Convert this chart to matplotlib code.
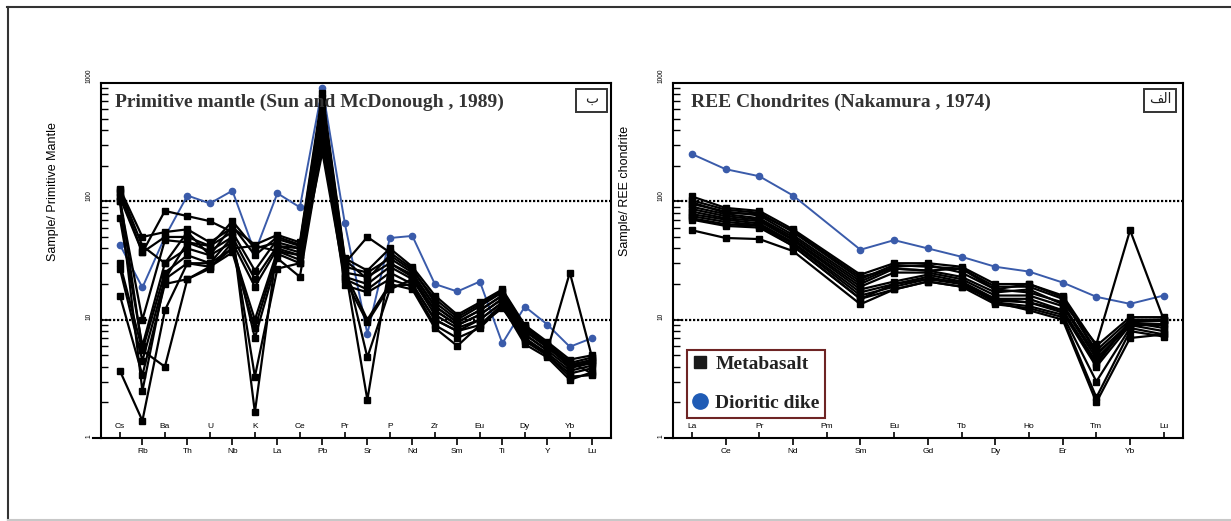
import numpy as np
import matplotlib
matplotlib.use('Agg')
import matplotlib.pyplot as plt
from matplotlib.lines import Line2D
from matplotlib.patches import Rectangle
from matplotlib.ticker import NullFormatter


# [ Primitive mantle normalised (Sun and McDonough , 1989) ]
PM_ELEMENTS = ['Cs', 'Rb', 'Ba', 'Th', 'U', 'Nb', 'K', 'La', 'Ce', 'Pb', 'Pr',
			   'Sr', 'P', 'Nd', 'Zr', 'Sm', 'Eu', 'Ti', 'Dy', 'Y', 'Yb', 'Lu']

pm_metabasalt = [
	[128, 50, 55, 58, 45, 60, 43, 52, 45, 820, 33, 26, 40, 28, 16, 11, 14, 18, 9.0, 6.5, 4.6, 5.0],
	[120, 37, 83, 75, 68, 55, 26, 48, 42, 700, 30, 50, 37, 27, 14, 10, 13, 17, 8.5, 6.2, 4.3, 4.8],
	[108, 37, 50, 50, 42, 68, 40, 45, 40, 600, 28, 25, 33, 25, 13, 9.5, 12, 16, 8.0, 5.8, 4.1, 4.6],
	[100, 10, 47, 45, 38, 50, 22, 42, 37, 520, 25, 23, 30, 23, 12, 9, 11, 15, 7.5, 5.5, 3.9, 4.3],
	[72, 6, 30, 40, 35, 45, 19, 40, 35, 450, 23, 20, 28, 22, 11, 8.5, 10, 14, 7.0, 5.2, 3.7, 4.1],
	[30, 5.5, 25, 35, 30, 40, 10, 38, 32, 400, 22, 18, 25, 20, 10, 8, 9, 13.5, 6.6, 5.0, 3.5, 3.9],
	[27, 4.5, 22, 30, 28, 37, 8.5, 36, 30, 350, 19.5, 17, 22, 19, 9, 7, 8.5, 13, 6.2, 4.8, 3.1, 3.6],
	[16, 3.4, 20, 22, 27, 45, 7, 33, 23, 300, 25, 10, 20, 18, 8.5, 6, 9, 12.5, 6.8, 5.0, 3.3, 3.4],
	[3.7, 1.4, 12, 30, 30, 50, 3.3, 27, 30, 260, 22, 9.5, 19, 20, 10, 8, 10, 14, 7.5, 5.5, 25, 4.7],
	[100, 2.5, 22, 45, 42, 55, 1.65, 42, 40, 650, 30, 4.8, 18, 22, 12, 9, 11, 15, 8.0, 6.0, 4.0, 4.4],
	[110, 5.5, 4, 22, 28, 40, 42, 38, 35, 550, 28, 2.1, 30, 24, 13, 9.5, 12, 16, 8.5, 6.0, 4.2, 4.5],
	[125, 42, 30, 55, 35, 62, 35, 50, 43, 750, 32, 22, 35, 26, 15, 10.5, 13.5, 17.5, 8.8, 6.3, 4.4, 3.5],
]
pm_dike = [43, 18.7, 50, 112, 96, 123, 37, 117, 89, 910, 65, 7.6, 49, 51, 20, 17.3, 21, 6.3, 12.9, 9.1, 5.9, 7.0]

# [ REE chondrite normalised (Nakamura , 1974) ] - Pm not measured
REE_ELEMENTS = ['La', 'Ce', 'Pr', 'Nd', 'Pm', 'Sm', 'Eu', 'Gd', 'Tb', 'Dy', 'Ho', 'Er', 'Tm', 'Yb', 'Lu']
REE_MEASURED = ['La', 'Ce', 'Pr', 'Nd', 'Sm', 'Eu', 'Gd', 'Tb', 'Dy', 'Ho', 'Er', 'Tm', 'Yb', 'Lu']

ree_metabasalt = [
	[110, 88, 83, 58, 24, 30, 30, 28, 20, 20, 16, 6.0, 10.5, 10.5],
	[102, 85, 80, 55, 22, 29, 28, 27, 19, 19, 15, 5.5, 10, 10],
	[95, 82, 76, 52, 21, 28, 29, 25, 18, 17, 14, 6.2, 57, 10],
	[90, 78, 72, 50, 20, 27, 26, 23, 17, 18, 13.5, 5.0, 9.5, 9.8],
	[86, 75, 70, 48, 19, 25, 25, 22, 16, 16, 13, 4.7, 9.0, 9.0],
	[82, 72, 68, 47, 18, 21, 24, 21, 15, 15, 12, 4.4, 9.5, 8.5],
	[78, 70, 65, 45, 17, 20, 23, 20, 14.5, 14, 11.5, 4.0, 9.0, 8.0],
	[75, 67, 63, 44, 16, 19, 22, 20, 14, 13, 11, 3.0, 8.5, 7.5],
	[72, 64, 62, 42, 15, 18, 21, 19, 13.5, 12.5, 10.5, 2.2, 8.0, 7.2],
	[70, 62, 60, 42, 15, 20, 22, 21, 14, 12, 10, 2.0, 7.0, 7.5],
	[57, 49, 48, 38, 13.5, 18, 21, 19, 15, 14, 12, 4.2, 9.8, 10],
	[98, 80, 78, 56, 23, 27, 26, 27, 18, 20, 15.5, 5.2, 9.2, 9.2],
]
ree_dike = [251, 187, 163, 112, 39, 47, 40, 34, 28, 25.5, 20.6, 15.6, 13.6, 16]

BLUE = '#3a5baa'
SERIF = 'Liberation Serif'
SANS = 'Liberation Sans'

W, H = 1231, 521


def style_axes(ax, elements, ylabel):
	n = len(elements)
	x = np.arange(n)
	ax.set_yscale('log')
	ax.set_ylim(1, 1000)
	# pad so that first/last element sit like in the original
	if n > 15:
		ax.set_xlim(-0.84, n - 1 + 0.83)
	else:
		ax.set_xlim(-0.56, n - 1 + 0.57)

	# dotted reference lines
	for v in (10, 100):
		ax.axhline(v, color='k', lw=1.6, ls=(0, (1, 0.8)), zorder=1)

	# y ticks
	ax.set_yticks([1, 10, 100, 1000], ['1', '10', '100', '1000'])
	ax.yaxis.set_minor_formatter(NullFormatter())
	ax.tick_params(axis='y', which='major', direction='in', length=6, width=1.2,
				   labelsize=4.8, pad=6)
	ax.tick_params(axis='y', which='minor', direction='in', length=5, width=1.0)
	for t in ax.get_yticklabels():
		t.set_rotation(90)
		t.set_va('bottom')
		t.set_family(SANS)

	# x ticks : odd -> outside, even -> inside
	out_pos = x[1::2]
	in_pos = x[0::2]
	ax.set_xticks(out_pos, [elements[i] for i in out_pos])
	ax.set_xticks(in_pos, [elements[i] for i in in_pos], minor=True)
	ax.tick_params(axis='x', which='major', direction='out', length=5, width=1.2,
				   labelsize=6, pad=2)
	ax.tick_params(axis='x', which='minor', direction='in', length=4.5, width=1.2,
				   labelsize=6, pad=-10.5)
	for t in ax.get_xticklabels() + ax.get_xticklabels(minor=True):
		t.set_family(SANS)

	for s in ax.spines.values():
		s.set_linewidth(1.5)
	ax.plot([-0.016, 0], [0, 0], transform=ax.transAxes, color='k', lw=1.5, clip_on=False)

	ax.set_ylabel(ylabel, fontsize=9, family=SANS)
	ax.yaxis.set_label_coords(-0.083, 0.695)


def label_box(ax, x0, x1, text):
	y0, y1 = 0.918, 0.983
	ax.add_patch(Rectangle((x0, y0), x1 - x0, y1 - y0, transform=ax.transAxes,
						   fill=False, ec='#333333', lw=1.4, zorder=5))
	ax.text((x0 + x1) / 2, (y0 + y1) / 2 + 0.004, text, transform=ax.transAxes,
			ha='center', va='center', fontsize=10, family='DejaVu Sans', color='#222222')


def main():
	fig = plt.figure(figsize=(W / 100, H / 100), dpi=100)

	# outer frame
	fig.add_artist(Line2D([7 / W, 1], [1 - 7 / H, 1 - 7 / H], color='#333333', lw=1.5))
	fig.add_artist(Line2D([8 / W, 8 / W], [1 - 7 / H, 1 / H], color='#333333', lw=1.5))
	fig.add_artist(Line2D([8 / W, 1], [1.5 / H, 1.5 / H], color='#c8c8c8', lw=1.5))

	bottom = (H - 438) / H
	height = 355 / H
	ax1 = fig.add_axes([101 / W, bottom, 510 / W, height])
	ax2 = fig.add_axes([673 / W, bottom, 510 / W, height])

	# [ Left : Primitive mantle ]
	x_pm = np.arange(len(PM_ELEMENTS))
	ax1.plot(x_pm, pm_dike, color=BLUE, lw=1.4, marker='o', ms=4.5, zorder=2)
	for s in pm_metabasalt:
		ax1.plot(x_pm, s, color='k', lw=1.6, marker='s', ms=4, zorder=3)
	style_axes(ax1, PM_ELEMENTS, 'Sample/ Primitive Mantle')
	ax1.text(0.0275, 0.933, 'Primitive mantle (Sun and McDonough , 1989)', transform=ax1.transAxes,
			 fontsize=14, family=SERIF, weight='bold', color='#333333', va='baseline', zorder=6)
	label_box(ax1, 0.931, 0.992, 'ب')

	# [ Right : REE chondrites ]
	x_ree = np.array([REE_ELEMENTS.index(e) for e in REE_MEASURED])
	ax2.plot(x_ree, ree_dike, color=BLUE, lw=1.4, marker='o', ms=4.5, zorder=2)
	for s in ree_metabasalt:
		ax2.plot(x_ree, s, color='k', lw=1.6, marker='s', ms=4, zorder=3)
	style_axes(ax2, REE_ELEMENTS, 'Sample/ REE chondrite')
	ax2.text(0.035, 0.933, 'REE Chondrites (Nakamura , 1974)', transform=ax2.transAxes,
			 fontsize=14, family=SERIF, weight='bold', color='#333333', va='baseline', zorder=6)
	# presentation forms in visual order so that "الف" shows joined (no shaping in matplotlib)
	label_box(ax2, 0.9235, 0.986, '\ufed2\ufedf\ufe8d')

	handles = [
		Line2D([], [], ls='none', marker='s', color='#1a1a1a', ms=9),
		Line2D([], [], ls='none', marker='o', color='#1f5bb5', ms=11),
	]
	leg = ax2.legend(handles, ['Metabasalt', 'Dioritic dike'], loc='lower left',
					 bbox_to_anchor=(0.0275, 0.0565), borderaxespad=0,
					 prop={'family': SERIF, 'weight': 'bold', 'size': 14},
					 frameon=True, fancybox=False, framealpha=1, edgecolor='#6e2424',
					 handlelength=0.7, handletextpad=0.45, labelspacing=1.1, borderpad=0.3)
	leg.get_frame().set_linewidth(1.5)
	for t in leg.get_texts():
		t.set_color('#222222')

	fig.savefig('out.png', dpi=100)


if __name__ == "__main__":
	main()
